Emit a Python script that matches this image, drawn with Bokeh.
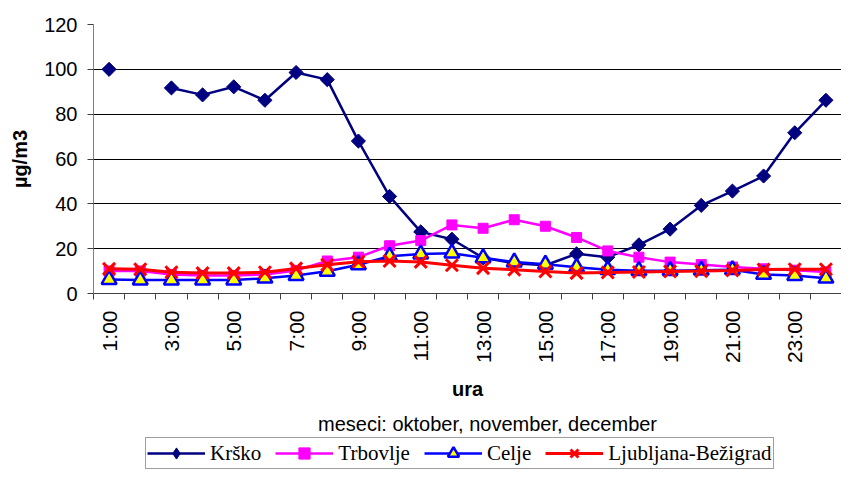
import math
from bokeh.plotting import figure
from bokeh.layouts import column
from bokeh.models import (Range1d, FixedTicker, Legend, LegendItem, Label)
from bokeh.embed import file_html
from bokeh.resources import INLINE

nan = math.nan

hour_labels = ["1:00", "2:00", "3:00", "4:00", "5:00", "6:00", "7:00", "8:00",
               "9:00", "10:00", "11:00", "12:00", "13:00", "14:00", "15:00", "16:00",
               "17:00", "18:00", "19:00", "20:00", "21:00", "22:00", "23:00", "24:00"]
hour_index = list(range(1, 25))

krsko = [100, nan, 91.7, 88.6, 92.2, 86.2, 98.6, 95.4, 68, 43.3, 27.5, 24.2,
         15.9, 13.5, 12.6, 17.7, 16.2, 21.7, 28.7, 39.3, 45.7, 52.4, 71.7, 86.2]
trbovlje = [10, 10, 8.5, 8, 8, 8.5, 10.3, 14.5, 16.2, 21.3, 23.6, 30.6,
            29.1, 32.9, 30, 25, 19, 16.2, 14, 12.9, 11.8, 11, 10.4, 9.6]
celje = [6.2, 6, 6, 6, 6, 6.8, 8, 9.9, 12.8, 16.6, 17.6, 18,
         15.9, 14, 13, 11.7, 10.6, 10.2, 10.2, 10.4, 10.6, 8.5, 8, 6.8]
ljubljana = [11, 10.8, 9.5, 9.1, 9.1, 9.5, 11.2, 12.8, 14.2, 14.5, 14.1, 12.6,
             11.3, 10.6, 9.8, 9.1, 9.4, 9.6, 9.8, 10, 10.3, 10.7, 10.8, 10.8]

series_names = ["Krško", "Trbovlje", "Celje", "Ljubljana-Bežigrad"]
y_ticks = [0, 20, 40, 60, 80, 100, 120]
subtitle = "meseci: oktober, november, december"

FONT = "Liberation Sans"
W = 841

styles = [
    dict(color="#000080", lw=2.5, marker="square", angle=math.pi / 4, size=10,
         fill="#000080", mlw=1, legend_marker="diamond"),
    dict(color="#FF00FF", lw=2.5, marker="square", angle=0, size=10,
         fill="#FF00FF", mlw=1, legend_marker="square"),
    dict(color="#0000FF", lw=2.5, marker="triangle", angle=0, size=15,
         fill="#FFFF00", mlw=2.5, legend_marker="triangle"),
    dict(color="#FF0000", lw=3, marker="x", angle=0, size=17,
         fill="#FF0000", mlw=3, legend_marker="x"),
]
series_values = [krsko, trbovlje, celje, ljubljana]


def draw(fig, for_legend=False):
    out = []
    for vals, st in zip(series_values, styles):
        ln = fig.line(hour_index, vals, line_color=st["color"], line_width=st["lw"])
        marker = st["legend_marker"] if for_legend else st["marker"]
        angle = 0 if for_legend else st["angle"]
        sc = fig.scatter(hour_index, vals, marker=marker, angle=angle,
                         size=st["size"], fill_color=st["fill"],
                         line_color=st["color"], line_width=st["mlw"])
        out.append([ln, sc])
    return out


p = figure(width=W, height=403, output_backend="svg", toolbar_location=None,
           x_range=Range1d(0.5, 24.5), y_range=Range1d(0, 120),
           min_border_left=93, min_border_right=0, min_border_top=24,
           min_border_bottom=110)
p.outline_line_color = None
p.background_fill_color = "white"
draw(p)

xa = p.xaxis[0]
xa.ticker = FixedTicker(ticks=hour_index[::2],
                        minor_ticks=[h - 0.5 for h in hour_index] + [hour_index[-1] + 0.5])
xa.major_label_overrides = {h: lab for h, lab in zip(hour_index, hour_labels)}
xa.major_label_orientation = math.pi / 2
xa.major_tick_out = 0
xa.major_tick_in = 0
xa.minor_tick_out = 6
xa.minor_tick_in = 0
xa.minor_tick_line_color = "#404040"
xa.axis_line_color = "#404040"
xa.major_label_text_font = FONT
xa.major_label_text_font_size = "21px"
xa.major_label_text_color = "black"
xa.major_label_standoff = 11
xa.axis_label = "ura"
xa.axis_label_text_font = FONT
xa.axis_label_text_font_size = "20px"
xa.axis_label_text_font_style = "bold"
xa.axis_label_text_color = "black"
xa.axis_label_standoff = 12

ya = p.yaxis[0]
ya.ticker = FixedTicker(ticks=y_ticks)
ya.major_tick_out = 6
ya.major_tick_in = 0
ya.minor_tick_line_color = None
ya.axis_line_color = "#808080"
ya.major_tick_line_color = "#404040"
ya.major_label_text_font = FONT
ya.major_label_text_font_size = "20px"
ya.major_label_text_color = "black"
ya.major_label_standoff = 10
ya.axis_label = "µg/m3"
ya.axis_label_text_font = FONT
ya.axis_label_text_font_size = "20px"
ya.axis_label_text_font_style = "bold"
ya.axis_label_text_color = "black"
ya.axis_label_standoff = 10

p.xgrid.grid_line_color = None
p.ygrid.ticker = FixedTicker(ticks=y_ticks)
p.ygrid.grid_line_color = "black"
p.ygrid.grid_line_width = 1

# bottom strip: subtitle and legend (its frame is aligned with the main frame)
q = figure(width=W, height=67, output_backend="svg", toolbar_location=None,
           x_range=Range1d(-20, -10), y_range=Range1d(-20, -10),
           x_axis_type=None, y_axis_type=None,
           min_border_left=0, min_border_right=0, min_border_top=0,
           min_border_bottom=0)
q.outline_line_color = None
q.xgrid.grid_line_color = None
q.ygrid.grid_line_color = None
legend_renderers = draw(q, for_legend=True)

sub = Label(x=394, y=47, x_units="screen", y_units="screen", text=subtitle,
            text_align="center", text_baseline="alphabetic",
            text_font=FONT, text_font_size="20px", text_color="black")
q.add_layout(sub)

legend = Legend(items=[LegendItem(label=n, renderers=r)
                       for n, r in zip(series_names, legend_renderers)],
                orientation="horizontal", location=(52, 1),
                label_text_font="Liberation Serif", label_text_font_size="21px",
                label_text_color="black", glyph_width=58, glyph_height=28,
                label_height=22, label_standoff=5, spacing=14, padding=1,
                margin=0, border_line_color="#404040", border_line_width=1,
                background_fill_alpha=1)
q.add_layout(legend, "center")

layout = column(p, q, spacing=0)
open("out.html", "w").write(file_html(layout, INLINE))
